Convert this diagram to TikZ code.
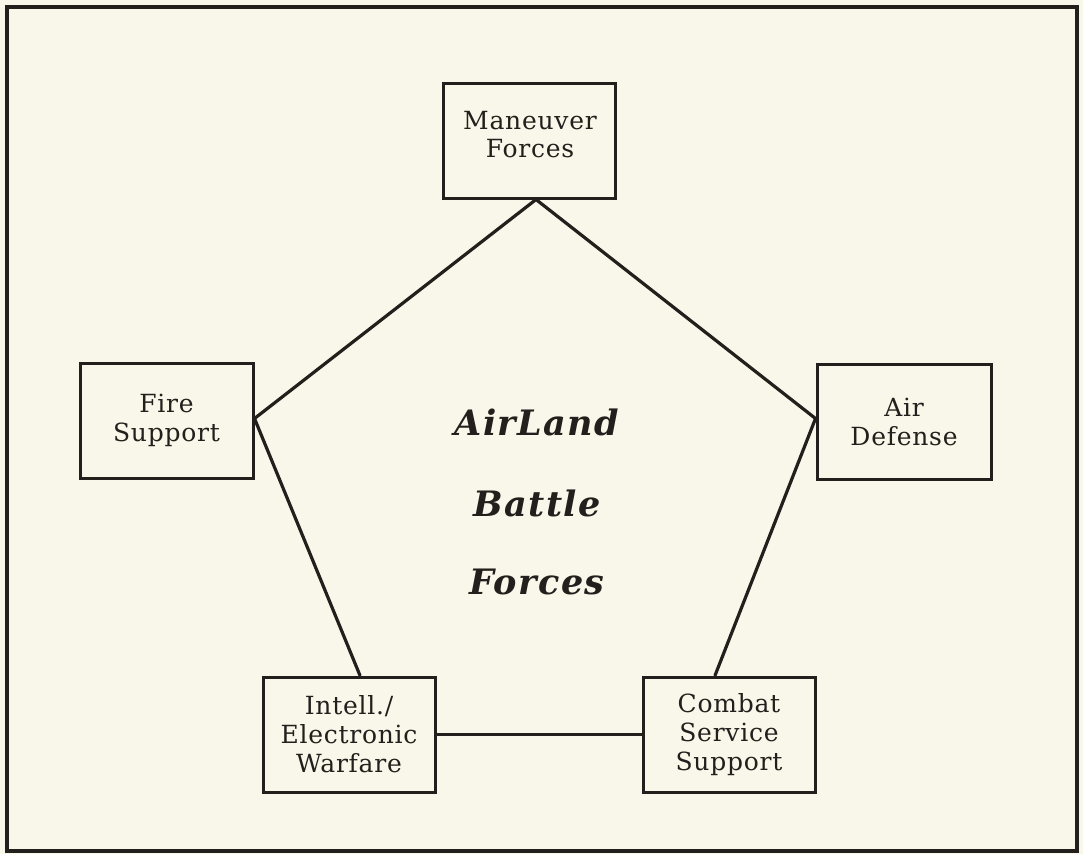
\documentclass[tikz,border=0pt]{standalone}
\usepackage{fontspec}
\setmainfont{DejaVu Serif}
\newfontfamily\boxfont[LetterSpace=3]{DejaVu Serif}
\newfontfamily\titlefont[LetterSpace=4]{DejaVu Serif}
\definecolor{paper}{HTML}{F8F7E9}
\definecolor{ink}{HTML}{221F1C}
\begin{document}
\begin{tikzpicture}[x=1pt,y=-1pt,
  ink line/.style={draw=ink,line width=3pt},
  label font/.style={text=ink,font=\boxfont\fontsize{25}{29}\selectfont},
  unit/.style={ink line,fill=paper,rectangle,inner sep=0pt,align=center,
    label font,minimum width=172pt,minimum height=115pt},
  link/.style={ink line,line width=3.2pt,line cap=round},
  heading/.style={text=ink,font=\titlefont\bfseries\itshape\fontsize{35}{40}\selectfont}]
  % page and frame
  \fill[paper] (0,0) rectangle (1083,854);
  \draw[ink line,line width=3.8pt] (7,7) rectangle (1077,851);
  \useasboundingbox (0,0) rectangle (1083,854);

  % the five force elements
  \node[unit] (man) at (529,140.5) {};
  \node[label font,align=center,inner sep=0pt] (manlabel) at (530,135)
    {Maneuver\\[-1pt]Forces};
  \node[unit,minimum width=173pt] (fire) at (166.5,420.5) {Fire\\Support};
  \node[unit,minimum width=174pt] (air) at (904,421.5) {Air\\Defense};
  \node[unit] (intel) at (349,734.5) {Intell./\\Electronic\\Warfare};
  \node[unit] (css) at (729,734.5) {Combat\\Service\\Support};

  % central caption
  \node[heading] (t1) at (537,422) {AirLand};
  \node[heading] (t2) at (537,503) {Battle};
  \node[heading] (t3) at (537,582) {Forces};

  % pentagon of links
  \coordinate (mb) at ([xshift=7pt]man.south);
  \coordinate (fe) at ([yshift=2pt]fire.east);
  \coordinate (aw) at ([yshift=3pt]air.west);
  \coordinate (it) at ([xshift=11pt]intel.north);
  \coordinate (ct) at ([xshift=-14pt]css.north);
  \draw[link] (mb) -- (fe);
  \draw[link] (mb) -- (aw);
  \draw[link] (fe) -- (it);
  \draw[link] (aw) -- (ct);
  \draw[link] (intel.east) -- (css.west);
\end{tikzpicture}
\end{document}
